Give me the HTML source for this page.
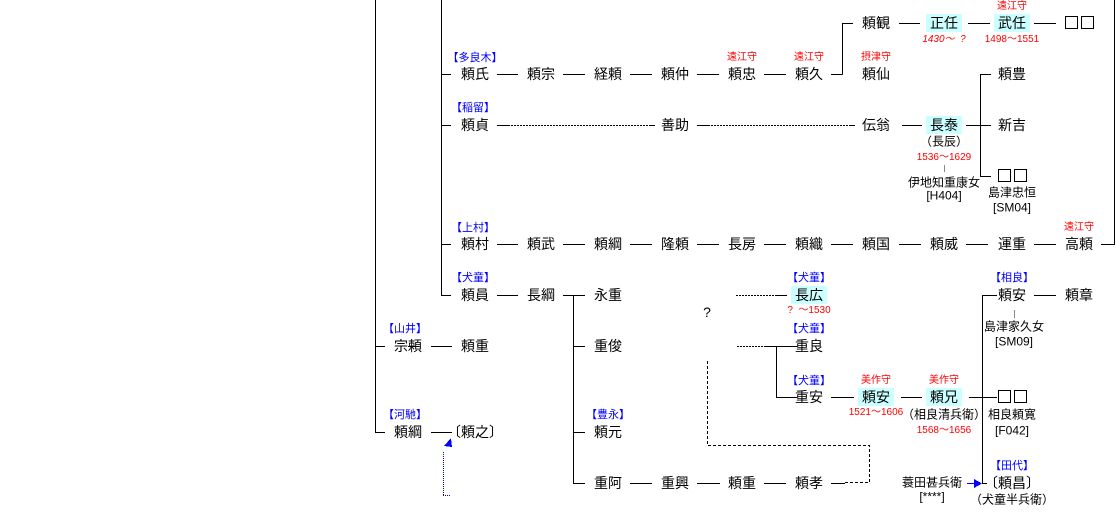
<!DOCTYPE html>
<html><head><meta charset="utf-8"><style>
body{margin:0;width:1116px;height:526px;background:#fff;position:relative;overflow:hidden;font-family:"Liberation Sans","Noto Sans CJK JP",sans-serif;}
.t{position:absolute;transform:translate(-50%,-50%);white-space:nowrap;font-size:14px;color:#000;line-height:16px;}
.s{font-size:12px;line-height:13px;}
.b{color:#00f;font-size:11px;line-height:12px;}
.r{color:#f00;font-size:10px;line-height:12px;}
.hl{background:#ccffff;padding:1px 4px;}
.bx{position:absolute;width:11px;height:11px;border:1px solid #000;}
svg{position:absolute;left:0;top:0;}
</style></head><body>
<svg width="1116" height="526" stroke="#000" stroke-width="1" fill="none" shape-rendering="crispEdges">
<path d="M375.5 0V432.5H385M375.5 346.5H385"/>
<path d="M441.5 0V295.5H451M441.5 74.5H451M441.5 125.5H451M441.5 244.5H451"/>
<path d="M1114.5 0V244.5H1101"/>
<path d="M497 74.5H518M563 74.5H585M630 74.5H652M697 74.5H719M764 74.5H786M831 74.5H842.5M842.5 23V74.5M842 23.5H853"/>
<path d="M899 23.5H920M968 23.5H990M1034 23.5H1056"/>
<path d="M497 125.5H508M650 125.5H655M697 125.5H708M850 125.5H855M902 125.5H922M966 125.5H980.5M980.5 74V176.5M980 74.5H991M980 125.5H991M980 176.5H991"/>
<path d="M508 125.5H650M708 125.5H850" stroke-dasharray="2,1"/>
<path d="M944.5 165V172" stroke="#888"/>
<path d="M497 244.5H518M563 244.5H585M630 244.5H652M697 244.5H719M764 244.5H786M831 244.5H853M899 244.5H921M966 244.5H988M1034 244.5H1056"/>
<path d="M497 295.5H518M563 295.5H585M573.5 295V483.5H585M573 346.5H585M573 432.5H585"/>
<path d="M736 295.5H776M737 346.5H766" stroke-dasharray="2,1"/>
<path d="M776 295.5H787M766 346.5H797M776.5 346V397.5H797"/>
<path d="M831 397.5H854M901 397.5H922M969 397.5H997M982.5 295V483.5H987M982 295.5H997M1034 295.5H1056"/>
<path d="M1014.5 310V318" stroke="#888"/>
<path d="M707.5 361V445.5H869.5V482.5H845" stroke-dasharray="3,2"/>
<path d="M630 483.5H652M697 483.5H720M764 483.5H786M831 483.5H845"/>
<path d="M408 346.5H419M431 346.5H452M431 432.5H452"/>
<path d="M967 483.5H975" stroke="#00f"/>
<polygon points="974,479 982,483.5 974,488" fill="#00f" stroke="none"/>
<path d="M443.5 495V452M443 495.5H451" stroke="#00f" stroke-dasharray="1,1"/>
<polygon points="451,438 452,447 444,446" fill="#00f" stroke="none"/>
</svg>

<div class="t b" style="left:475px;top:58px">【多良木】</div>
<div class="t b" style="left:473px;top:108px">【稲留】</div>
<div class="t b" style="left:473px;top:228px">【上村】</div>
<div class="t b" style="left:473px;top:278px">【犬童】</div>
<div class="t b" style="left:405px;top:329px">【山井】</div>
<div class="t b" style="left:405px;top:415px">【河馳】</div>
<div class="t b" style="left:608px;top:415px">【豊永】</div>
<div class="t b" style="left:809px;top:278px">【犬童】</div>
<div class="t b" style="left:809px;top:329px">【犬童】</div>
<div class="t b" style="left:809px;top:381px">【犬童】</div>
<div class="t b" style="left:1012px;top:278px">【相良】</div>
<div class="t b" style="left:1012px;top:466px">【田代】</div>

<div class="t r" style="left:742px;top:58px">遠江守</div>
<div class="t r" style="left:809px;top:58px">遠江守</div>
<div class="t r" style="left:876px;top:58px">摂津守</div>
<div class="t r" style="left:1012px;top:7px">遠江守</div>
<div class="t r" style="left:1079px;top:228px">遠江守</div>
<div class="t r" style="left:944px;top:40px;font-style:italic">1430〜&nbsp;&nbsp;?</div>
<div class="t r" style="left:1012px;top:40px">1498〜1551</div>
<div class="t r" style="left:944px;top:158px">1536〜1629</div>
<div class="t r" style="left:809px;top:311px">?&nbsp;&nbsp;〜1530</div>
<div class="t r" style="left:876px;top:381px">美作守</div>
<div class="t r" style="left:944px;top:381px">美作守</div>
<div class="t r" style="left:876px;top:413px">1521〜1606</div>
<div class="t r" style="left:944px;top:431px">1568〜1656</div>

<div class="t" style="left:876px;top:23px">頼観</div>
<div class="t hl" style="left:944px;top:23px">正任</div>
<div class="t hl" style="left:1012px;top:23px">武任</div>
<div class="bx" style="left:1065px;top:16px"></div><div class="bx" style="left:1081px;top:16px"></div>

<div class="t" style="left:475px;top:74px">頼氏</div>
<div class="t" style="left:541px;top:74px">頼宗</div>
<div class="t" style="left:608px;top:74px">経頼</div>
<div class="t" style="left:675px;top:74px">頼仲</div>
<div class="t" style="left:742px;top:74px">頼忠</div>
<div class="t" style="left:809px;top:74px">頼久</div>
<div class="t" style="left:876px;top:74px">頼仙</div>
<div class="t" style="left:1012px;top:74px">頼豊</div>

<div class="t" style="left:475px;top:125px">頼貞</div>
<div class="t" style="left:675px;top:125px">善助</div>
<div class="t" style="left:876px;top:125px">伝翁</div>
<div class="t hl" style="left:944px;top:125px">長泰</div>
<div class="t" style="left:1012px;top:125px">新吉</div>
<div class="t s" style="left:944px;top:142px">（長辰）</div>
<div class="t s" style="left:944px;top:183px">伊地知重康女</div>
<div class="t s" style="left:944px;top:196px">[H404]</div>
<div class="bx" style="left:998px;top:169px"></div><div class="bx" style="left:1014px;top:169px"></div>
<div class="t s" style="left:1012px;top:193px">島津忠恒</div>
<div class="t s" style="left:1012px;top:208px">[SM04]</div>

<div class="t" style="left:475px;top:244px">頼村</div>
<div class="t" style="left:541px;top:244px">頼武</div>
<div class="t" style="left:608px;top:244px">頼綱</div>
<div class="t" style="left:675px;top:244px">隆頼</div>
<div class="t" style="left:742px;top:244px">長房</div>
<div class="t" style="left:809px;top:244px">頼織</div>
<div class="t" style="left:876px;top:244px">頼国</div>
<div class="t" style="left:944px;top:244px">頼威</div>
<div class="t" style="left:1012px;top:244px">運重</div>
<div class="t" style="left:1079px;top:244px">高頼</div>

<div class="t" style="left:475px;top:295px">頼員</div>
<div class="t" style="left:541px;top:295px">長綱</div>
<div class="t" style="left:608px;top:295px">永重</div>
<div class="t" style="left:707px;top:312px">?</div>
<div class="t hl" style="left:809px;top:295px">長広</div>
<div class="t" style="left:1012px;top:295px">頼安</div>
<div class="t" style="left:1079px;top:295px">頼章</div>
<div class="t s" style="left:1014px;top:327px">島津家久女</div>
<div class="t s" style="left:1014px;top:342px">[SM09]</div>

<div class="t" style="left:408px;top:346px">宗頼</div>
<div class="t" style="left:475px;top:346px">頼重</div>
<div class="t" style="left:608px;top:346px">重俊</div>
<div class="t" style="left:809px;top:346px">重良</div>

<div class="t" style="left:809px;top:397px">重安</div>
<div class="t hl" style="left:876px;top:397px">頼安</div>
<div class="t hl" style="left:944px;top:397px">頼兄</div>
<div class="bx" style="left:998px;top:390px"></div><div class="bx" style="left:1014px;top:390px"></div>
<div class="t s" style="left:944px;top:415px">（相良清兵衛）</div>
<div class="t s" style="left:1012px;top:415px">相良頼寛</div>
<div class="t s" style="left:1012px;top:431px">[F042]</div>

<div class="t" style="left:408px;top:432px">頼綱</div>
<div class="t" style="left:475px;top:432px">〔頼之〕</div>
<div class="t" style="left:608px;top:432px">頼元</div>

<div class="t" style="left:608px;top:483px">重阿</div>
<div class="t" style="left:675px;top:483px">重興</div>
<div class="t" style="left:742px;top:483px">頼重</div>
<div class="t" style="left:809px;top:483px">頼孝</div>
<div class="t s" style="left:932px;top:483px">蓑田甚兵衛</div>
<div class="t s" style="left:932px;top:497px">[****]</div>
<div class="t" style="left:1012px;top:483px">〔頼昌〕</div>
<div class="t s" style="left:1012px;top:500px">（犬童半兵衛）</div>
</body></html>
